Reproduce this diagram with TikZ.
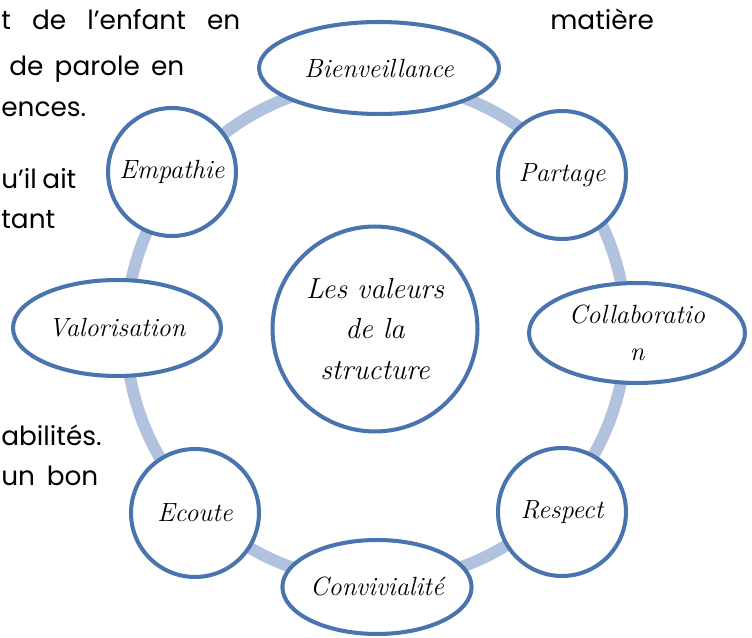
\documentclass[tikz,border=0pt]{standalone}
\usepackage{fontspec}
\newfontfamily\textefond{Poppins}
\usetikzlibrary{shapes.geometric}
\definecolor{bordure}{HTML}{4A74AD}
\definecolor{anneau}{HTML}{B1C2DE}

\begin{document}
\begin{tikzpicture}[x=0.02cm, y=-0.02cm]
			\tikzstyle{valeur} = [draw=bordure, line width=2.3pt, fill=white, circle, minimum size=2.56cm, inner sep=0pt, align=center, font=\fontsize{15}{21}\selectfont\itshape]
			\tikzstyle{ovale} = [valeur, ellipse]
			\tikzstyle{fond} = [anchor=base west, inner sep=0pt, font=\textefond\fontsize{15}{18}\selectfont]

			\useasboundingbox (0,0) rectangle (752,638);

			% texte du document derriere le schema
			\path
			node[fond] (ligne1) at (1,30) {\makebox[4.78cm][s]{t de l’enfant en}}
			node[fond] (ligne1b) at (550,30) {matière}
			node[fond] (ligne2) at (9,76) {\makebox[3.5cm][s]{de parole en}}
			node[fond] (ligne3) at (1,117) {ences.}
			node[fond] (ligne4) at (1,189) {\makebox[1.5cm][s]{u’il ait}}
			node[fond] (ligne5) at (1,229) {tant}
			node[fond] (ligne6) at (1,446) {abilités.}
			node[fond] (ligne7) at (1,486) {\makebox[1.94cm][s]{un bon}}
			;

			% anneau
			\draw[anneau, line width=6.8pt] (376,332) circle [radius=5cm];

			\path
			node[valeur, minimum size=4.1cm, font=\fontsize{16.5}{23}\selectfont\itshape] (centre) at (375,329) {Les valeurs\\de la\\structure}

			node[ovale, minimum width=4.8cm, minimum height=1.84cm] (bienveillance) at (379,68) {Bienveillance}
			node[valeur] (partage) at (562,175) {Partage}
			node[ovale, minimum width=4.32cm, minimum height=2cm] (collaboration) at (637,333) {Collaboratio\\n}
			node[valeur] (respect) at (562,512) {Respect}
			node[ovale, minimum width=3.68cm, minimum height=1.88cm] (convivialite) at (377,587) {Convivialité}
			node[valeur] (ecoute) at (195,513) {Ecoute}
			node[ovale, minimum width=4.16cm, minimum height=1.92cm] (valorisation) at (117,328) {Valorisation}
			node[valeur] (empathie) at (172,172) {Empathie}
			;
\end{tikzpicture}
\end{document}
